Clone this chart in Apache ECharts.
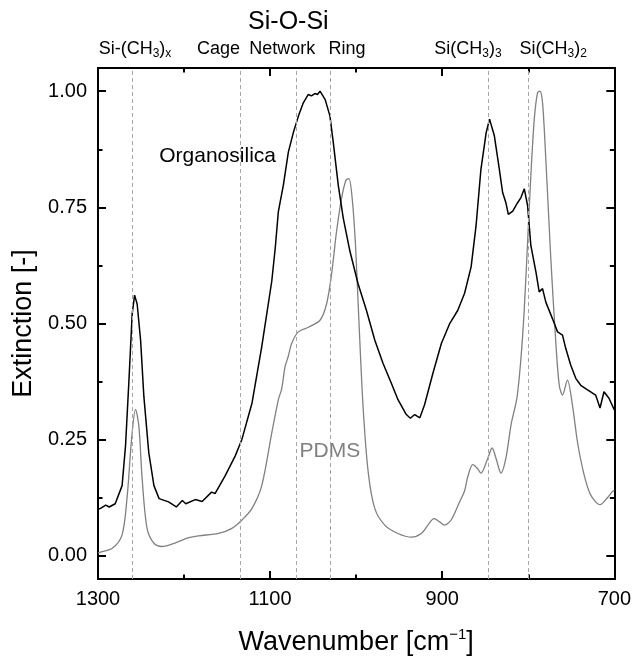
<!DOCTYPE html>
<html><head><meta charset="utf-8">
<script src="https://cdn.jsdelivr.net/npm/echarts@6/dist/echarts.min.js"></script>
<style>html,body{margin:0;padding:0;background:#fff}#c{width:634px;height:661px}</style>
</head><body><div id="c"></div>
<script>
// ---- data ----
const orgWn = [1300,1297,1291,1287,1280,1272,1268,1264,1260.3,1257.5,1254.5,1250.5,1246.7,1241,1235,1229,1218,1209,1202,1198,1187,1179,1168,1164,1152,1140.5,1132.7,1121,1109.7,1098,1094,1090.4,1084.6,1078.8,1073,1067,1061.4,1055.6,1052,1048,1045,1042,1036,1030.5,1026.6,1020.8,1015,1007.3,997.7,988,978.3,968.7,959,951.4,941.7,937,932,926,920.5,910.8,901,891.5,882,874,866.4,860.7,855,849,845,839.4,833.6,829.8,826,823.2,818,812.4,808.5,804.6,800.8,797,791,787.3,783.4,779.6,771.8,766,760.2,756.4,750.6,744.8,739,733.3,727.5,721.7,716.6,712,706.2,700];
const orgVal = [0.100,0.102,0.109,0.105,0.112,0.151,0.237,0.379,0.52,0.561,0.542,0.464,0.343,0.222,0.151,0.123,0.116,0.105,0.119,0.112,0.121,0.117,0.137,0.134,0.173,0.215,0.251,0.329,0.45,0.592,0.663,0.741,0.798,0.869,0.911,0.947,0.975,0.993,0.990,0.995,0.993,1.0,0.982,0.947,0.89,0.798,0.727,0.656,0.585,0.528,0.464,0.414,0.371,0.336,0.304,0.296,0.304,0.297,0.325,0.393,0.457,0.499,0.528,0.565,0.622,0.71,0.832,0.91,0.94,0.904,0.832,0.782,0.76,0.735,0.742,0.76,0.771,0.79,0.754,0.668,0.61,0.568,0.575,0.546,0.51,0.482,0.475,0.446,0.41,0.382,0.367,0.36,0.353,0.346,0.318,0.353,0.339,0.314];
const pdmsWn = [1300,1297,1283.4,1272,1266,1261,1256.4,1252.5,1248.7,1243,1235,1225.5,1210,1194.6,1183,1160,1144.4,1132.7,1121,1109.7,1098,1090.4,1086.5,1082.6,1078.8,1075,1067.2,1055.6,1042,1034.4,1028.6,1022.8,1017,1012,1008.5,1004.6,1000.8,997,992,986,978.4,966.8,951.4,936,924.3,916.6,909.6,903,897.4,889.6,880,874,870.3,864.5,859,855,847,842,837.5,831.7,826,820,813.2,808.5,804.6,800.8,797,793,789.2,786.5,783.4,779.6,773.8,768,764,760.2,754.5,748.7,742.9,735.2,727.5,716.6,708,702.3,700];
const pdmsVal = [0.006,0.008,0.016,0.045,0.13,0.251,0.315,0.279,0.166,0.059,0.027,0.02,0.028,0.039,0.043,0.048,0.059,0.077,0.102,0.151,0.265,0.336,0.36,0.407,0.43,0.457,0.482,0.492,0.507,0.542,0.606,0.698,0.769,0.808,0.812,0.769,0.67,0.514,0.322,0.18,0.102,0.066,0.048,0.04,0.048,0.066,0.08,0.073,0.066,0.077,0.115,0.14,0.17,0.196,0.188,0.178,0.21,0.232,0.21,0.178,0.21,0.282,0.34,0.425,0.532,0.675,0.818,0.94,0.997,1.0,0.975,0.854,0.64,0.46,0.367,0.346,0.378,0.325,0.246,0.175,0.131,0.11,0.125,0.138,0.14];
const bandWn = [1260, 1135, 1070, 1030, 847, 800];
const bandLabels = ['{n|Si-(CH}{s|3}{n|)}{s|x}', '{n|Cage}', '{n|Network}', '{n|Ring}', '{n|Si(CH}{s|3}{n|)}{s|3}', '{n|Si(CH}{s|3}{n|)}{s|2}'];
const bandLabelWn = [1257, 1160, 1086, 1010.5, 870, 771];
const yMajor = [0, 0.25, 0.5, 0.75, 1.0];
const yMinor = [0.125, 0.375, 0.625, 0.875];

const FONT = 'Liberation Sans, Arial, sans-serif';
const chart = echarts.init(document.getElementById('c'), null, {renderer: 'canvas'});
const zip = (a, b) => a.map((x, i) => [x, b[i]]);
const yRange = {min: -0.05, max: 1.05};
const baseY = (pos, ticks, len, showLabel) => ({
  type: 'value', position: pos, ...yRange, offset: 0,
  axisLine: {show: true, lineStyle: {color: '#000', width: 2}},
  axisTick: {show: true, inside: true, length: len, lineStyle: {color: '#000', width: 2}, customValues: ticks},
  axisLabel: {show: showLabel, customValues: ticks, formatter: v => v.toFixed(2), fontSize: 20, color: '#000', fontFamily: FONT, margin: 11},
  splitLine: {show: false}
});
const yAxes = [
  Object.assign(baseY('left', yMajor, 8, true), {name: 'Extinction [-]', nameLocation: 'middle', nameGap: 55, nameTextStyle: {fontSize: 27, color: '#000', fontFamily: FONT}}),
  baseY('left', yMinor, 4.5, false),
  baseY('right', yMajor, 8, false),
  baseY('right', yMinor, 4.5, false)
];
const baseX = (pos, showLabel) => ({
  type: 'value', position: pos, min: 700, max: 1300, interval: 200, inverse: true,
  axisLine: {show: true, onZero: false, lineStyle: {color: '#000', width: 2}},
  axisTick: {show: true, inside: true, length: 8, lineStyle: {color: '#000', width: 2}},
  minorTick: {show: true, splitNumber: 2, length: 4.5, lineStyle: {color: '#000', width: 2}},
  axisLabel: {show: showLabel, formatter: v => String(v), fontSize: 20, color: '#000', fontFamily: FONT, margin: 10},
  splitLine: {show: false}, minorSplitLine: {show: false}
});
const xAxes = [
  Object.assign(baseX('bottom', true), {
    name: '{t|Wavenumber [cm}{sup|\u22121}{t|]}', nameLocation: 'middle', nameGap: 48,
    nameTextStyle: {rich: {t: {fontSize: 27, color: '#000', fontFamily: FONT, lineHeight: 31}, sup: {fontSize: 15, color: '#000', fontFamily: FONT, lineHeight: 15, verticalAlign: 'top'}}}
  }),
  baseX('top', false)
];

chart.setOption({
  animation: false,
  backgroundColor: '#fff',
  grid: {left: 98, right: 17, top: 68, bottom: 76.5, containLabel: false},
  xAxis: xAxes,
  yAxis: yAxes,
  series: [
    {type: 'line', name: 'Organosilica', data: zip(orgWn, orgVal), showSymbol: false, smooth: false,
     lineStyle: {color: '#000', width: 1.5}, z: 3,
     markLine: {silent: true, symbol: 'none', label: {show: false}, animation: false,
       lineStyle: {color: '#a6a6a6', type: [4, 3], width: 1},
       data: bandWn.map(w => ({xAxis: w}))}},
    {type: 'line', name: 'PDMS', data: zip(pdmsWn, pdmsVal), showSymbol: false, smooth: 0.3,
     lineStyle: {color: '#808080', width: 1.3}, z: 2}
  ]
});

// annotations placed in data coordinates
const rich = {
  n: {fontSize: 18, fill: '#000', fontFamily: FONT, lineHeight: 22},
  s: {fontSize: 12, fill: '#000', fontFamily: FONT, lineHeight: 12, verticalAlign: 'bottom'}
};
const px = (w, v) => chart.convertToPixel({xAxisIndex: 0, yAxisIndex: 0}, [w, v]);
const g = [];
bandLabelWn.forEach((w, i) => {
  const p = px(w, 0);
  g.push({type: 'text', x: p[0], y: 49, style: {text: bandLabels[i], rich: rich, align: 'center', verticalAlign: 'middle', fontSize: 18, fontFamily: FONT}});
});
const pS = px(1078.8, 0);
g.push({type: 'text', x: pS[0], y: 22, style: {text: 'Si-O-Si', fontSize: 25, fill: '#000', fontFamily: FONT, align: 'center', verticalAlign: 'middle'}});
const pO = px(1161, 0.861);
g.push({type: 'text', x: pO[0], y: pO[1], style: {text: 'Organosilica', fontSize: 21, fill: '#000', fontFamily: FONT, align: 'center', verticalAlign: 'middle'}});
const pP = px(1030.5, 0.226);
g.push({type: 'text', x: pP[0], y: pP[1], style: {text: 'PDMS', fontSize: 21, fill: '#808080', fontFamily: FONT, align: 'center', verticalAlign: 'middle'}});
chart.setOption({graphic: g});
</script>
</body></html>
